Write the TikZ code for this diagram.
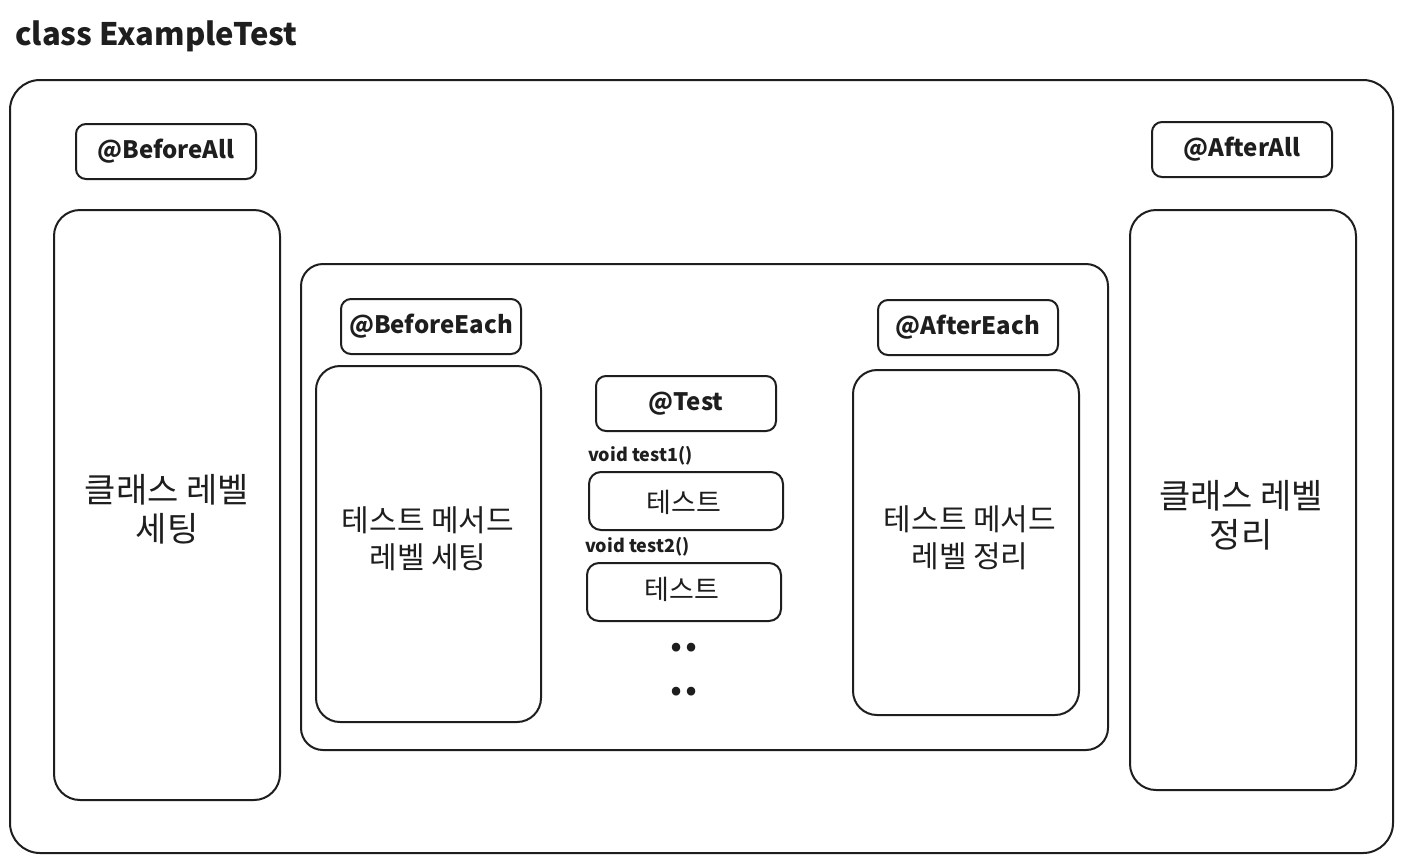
\documentclass[tikz,border=0pt]{standalone}
\usepackage{fontspec}
\setmainfont{Noto Sans CJK KR}
\usetikzlibrary{positioning}
\definecolor{ink}{HTML}{1E1E1E}
\tikzset{
  box/.style={draw=ink, line width=2pt, rounded corners=#1, inner sep=0pt, text=ink},
  box/.default=10pt,
  tag/.style={box=10pt, font=\fontsize{24}{28}\selectfont\bfseries, minimum width=180pt, minimum height=55pt},
  big/.style={font=\fontsize{34}{39}\selectfont, align=center, text=ink},
  mid/.style={font=\fontsize{30}{37}\selectfont, align=center, text=ink},
  small/.style={font=\fontsize{18}{22}\selectfont\bfseries, text=ink, inner sep=0pt},
  tst/.style={text=ink, font=\fontsize{27}{30}\selectfont},
  dots/.style={text=ink, font=\fontsize{40}{40}\selectfont\bfseries, inner sep=0pt, anchor=base},
}
\newcommand{\bx}[6]{% name, x1,y1,x2,y2, style
  \node[#6, minimum width={#4-#2}, minimum height={#5-#3}] (#1) at ({(#2+#4)/2},{(#3+#5)/2}) {};}
\newcommand{\low}[1]{\raisebox{-2pt}{#1}}
\begin{document}
\begin{tikzpicture}[x=1pt,y=-1pt]
\fill[white] (0,0) rectangle (1403,863);
\useasboundingbox (0,0) rectangle (1403,863);
\node[anchor=base west, inner sep=0pt, text=ink, font=\fontsize{31}{36}\selectfont\bfseries] (title) at (15,45) {class ExampleTest};
\bx{outer}{10}{80}{1393}{853}{box=30pt}
\bx{midbox}{301}{264}{1108}{750}{box=22pt}
% left
\node[tag] (ba) at (166,151.5) {\low{@BeforeAll}};
\bx{lbox}{54}{210}{280}{800}{box=26pt}
\node[big] (ltxt) at (167,509) {클래스 레벨\\세팅};
% right
\node[tag] (aa) at (1242,149.5) {\low{@AfterAll}};
\bx{rbox}{1130}{210}{1356}{790}{box=26pt}
\node[big] (rtxt) at (1241,515) {클래스 레벨\\정리};
% before each
\node[tag] (be) at (431,326.5) {\low{@BeforeEach}};
\bx{bebox}{316}{366}{541}{722}{box=24pt}
\node[mid] (betxt) at (428,539) {테스트 메서드\\레벨 세팅};
% after each
\node[tag] (ae) at (968,327.5) {\low{@AfterEach}};
\bx{aebox}{853}{370}{1079}{715}{box=24pt}
\node[mid] (aetxt) at (970,538) {테스트 메서드\\레벨 정리};
% tests
\node[tag] (test) at (686,403.5) {\low{@Test}};
\node[small, anchor=west] (v1) at (588,456) {void test1()};
\bx{t1}{589}{472}{783}{530}{box=12pt}
\node[tst] (t1txt) at (684,502) {테스트};
\node[small, anchor=west] (v2) at (585,547) {void test2()};
\bx{t2}{587}{563}{781}{621}{box=12pt}
\node[tst] (t2txt) at (682,589) {테스트};
\node[dots] (d1) at (684,651) {..};
\node[dots] (d2) at (684,695) {..};
\end{tikzpicture}
\end{document}
